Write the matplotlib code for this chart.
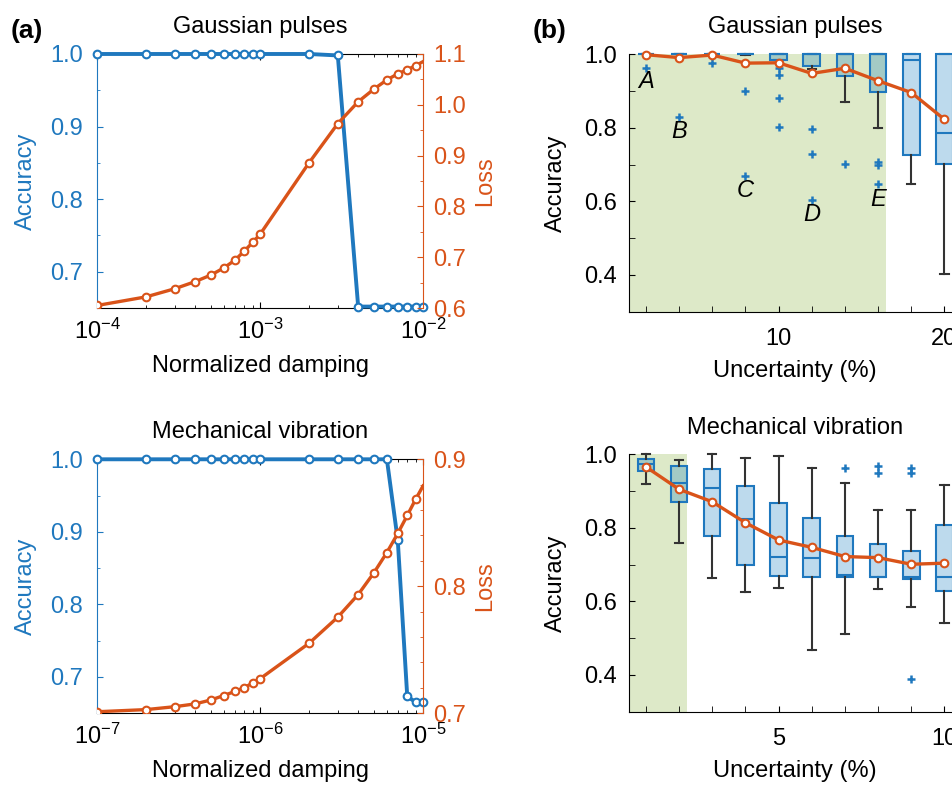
import matplotlib
matplotlib.use('Agg')
import matplotlib.pyplot as plt

plt.rcParams['font.family'] = 'Liberation Sans'
plt.rcParams['mathtext.fontset'] = 'custom'
plt.rcParams['mathtext.rm'] = 'Liberation Sans'
plt.rcParams['mathtext.it'] = 'Liberation Sans:italic'
plt.rcParams['font.size'] = 17
plt.rcParams['axes.titlesize'] = 17
plt.rcParams['xtick.direction'] = 'in'
plt.rcParams['ytick.direction'] = 'in'

BLUE = '#1f78be'
ORANGE = '#d95319'
GREEN = '#dde9c8'
BOX_FILL = (0.0, 0.447, 0.741, 0.26)
WHISK = '#333333'

# ---- (a) damping sweeps ----
damp_gauss = [1e-4, 2e-4, 3e-4, 4e-4, 5e-4, 6e-4, 7e-4, 8e-4, 9e-4, 1e-3,
              2e-3, 3e-3, 4e-3, 5e-3, 6e-3, 7e-3, 8e-3, 9e-3, 1e-2]
acc_gauss = [1.0, 1.0, 1.0, 1.0, 1.0, 1.0, 1.0, 1.0, 1.0, 1.0,
             1.0, 0.998, 0.652, 0.652, 0.652, 0.652, 0.652, 0.652, 0.652]
loss_gauss = [0.605, 0.622, 0.638, 0.652, 0.665, 0.679, 0.694, 0.712, 0.729, 0.745,
              0.886, 0.963, 1.006, 1.031, 1.049, 1.061, 1.069, 1.077, 1.085]

damp_mech = [1e-7, 2e-7, 3e-7, 4e-7, 5e-7, 6e-7, 7e-7, 8e-7, 9e-7, 1e-6,
             2e-6, 3e-6, 4e-6, 5e-6, 6e-6, 7e-6, 8e-6, 9e-6, 1e-5]
acc_mech = [1.0, 1.0, 1.0, 1.0, 1.0, 1.0, 1.0, 1.0, 1.0, 1.0,
            1.0, 1.0, 1.0, 1.0, 1.0, 0.888, 0.673, 0.665, 0.665]
loss_mech = [0.701, 0.7027, 0.705, 0.7072, 0.7103, 0.7138, 0.717, 0.720, 0.7236, 0.727,
             0.755, 0.7756, 0.7934, 0.8106, 0.8265, 0.8416, 0.8557, 0.8684, 0.879]

# ---- (b) uncertainty sweeps ----
unc_gauss = [2, 4, 6, 8, 10, 12, 14, 16, 18, 20]
gauss_q1 = [1.0, 1.0, 1.0, 1.0, 0.985, 0.968, 0.942, 0.897, 0.726, 0.701]
gauss_med = [1.0, 1.0, 1.0, 1.0, 1.0, 1.0, 1.0, 1.0, 0.985, 0.787]
gauss_q3 = [1.0, 1.0, 1.0, 1.0, 1.0, 1.0, 1.0, 1.0, 1.0, 1.0]
gauss_wlo = [1.0, 1.0, 1.0, 0.998, 0.985, 0.96, 0.871, 0.799, 0.647, 0.402]
gauss_whi = [1.0, 1.0, 1.0, 1.0, 1.0, 1.0, 1.0, 1.0, 1.0, 1.0]
gauss_fliers = [[0.964], [0.830], [0.975], [0.901, 0.670], [0.962, 0.944, 0.880, 0.803],
                [0.796, 0.730, 0.604], [0.701], [0.708, 0.699, 0.647], [], []]
gauss_mean = [0.999, 0.991, 0.998, 0.976, 0.977, 0.948, 0.962, 0.928, 0.896, 0.823]
gauss_tags = ['A', 'B', 'C', 'D', 'E']
gauss_tag_x = [2, 4, 8, 12, 16]
gauss_tag_y = [0.926, 0.790, 0.629, 0.563, 0.604]

unc_mech = [1, 2, 3, 4, 5, 6, 7, 8, 9, 10]
mech_q1 = [0.955, 0.869, 0.779, 0.698, 0.669, 0.667, 0.667, 0.665, 0.661, 0.629]
mech_med = [0.973, 0.923, 0.909, 0.823, 0.721, 0.718, 0.672, 0.667, 0.666, 0.667]
mech_q3 = [0.987, 0.968, 0.960, 0.914, 0.867, 0.826, 0.777, 0.755, 0.738, 0.808]
mech_wlo = [0.918, 0.760, 0.663, 0.626, 0.637, 0.468, 0.511, 0.633, 0.586, 0.540]
mech_whi = [1.0, 0.985, 1.0, 0.989, 0.996, 0.962, 0.923, 0.849, 0.849, 0.917]
mech_fliers = [[], [], [], [], [], [], [0.962], [0.969, 0.948], [0.964, 0.948, 0.389], []]
mech_mean = [0.966, 0.905, 0.871, 0.814, 0.767, 0.747, 0.722, 0.719, 0.701, 0.704]


def damping_panel(rect, x, acc, loss, loss_lim, loss_major, loss_minor, title):
    ax = fig.add_axes(rect)
    ax.plot(x, acc, '-o', color=BLUE, lw=2.8, ms=5.5, mfc='white', mew=1.5,
            clip_on=False, zorder=5)
    ax.set_xscale('log')
    ax.set_xlim(x[0], x[-1])
    ax.set_ylim(0.65, 1.0)
    ax.set_yticks([0.7, 0.8, 0.9, 1.0])
    ax.set_yticks([0.75, 0.85, 0.95], minor=True)
    ax.yaxis.set_major_formatter('{x:.1f}')
    ax.tick_params(axis='y', which='both', colors=BLUE, length=4, pad=10)
    ax.tick_params(axis='y', which='minor', length=2.5)
    ax.tick_params(axis='x', which='both', top=True, length=4)
    ax.tick_params(axis='x', which='minor', length=2.5)
    ax.tick_params(axis='x', pad=8)
    ax.spines['left'].set_color(BLUE)
    ax.spines['right'].set_visible(False)
    ax.set_ylabel('Accuracy', color=BLUE, labelpad=9.5)
    ax.set_xlabel('Normalized damping', labelpad=8)
    ax.set_title(title, pad=15)

    ax2 = ax.twinx()
    ax2.plot(x, loss, '-o', color=ORANGE, lw=2.4, ms=5.5, mfc='white', mew=1.5,
             markevery=list(range(len(x) - 1)), zorder=5)
    ax2.set_ylim(*loss_lim)
    ax2.set_yticks(loss_major)
    ax2.set_yticks(loss_minor, minor=True)
    ax2.yaxis.set_major_formatter('{x:.1f}')
    ax2.tick_params(axis='y', which='both', colors=ORANGE, length=4, pad=7)
    ax2.tick_params(axis='y', which='minor', length=2.5)
    for s in ['top', 'bottom', 'left']:
        ax2.spines[s].set_visible(False)
    ax2.spines['right'].set_color(ORANGE)
    ax2.set_ylabel('Loss', color=ORANGE, labelpad=6)
    return ax


def uncertainty_panel(rect, x, q1, med, q3, wlo, whi, fliers, mean, shade_to,
                      xlim, xmajor, width, title):
    ax = fig.add_axes(rect)
    ax.axvspan(xlim[0], shade_to, color=GREEN, lw=0, zorder=0)
    stats = [dict(q1=a, med=m, q3=b, whislo=lo, whishi=hi, fliers=f)
             for a, m, b, lo, hi, f in zip(q1, med, q3, wlo, whi, fliers)]
    art = ax.bxp(stats, positions=x, widths=width, capwidths=width * 0.5,
                 patch_artist=True, manage_ticks=False,
                 boxprops=dict(facecolor=BOX_FILL, edgecolor=BLUE, lw=1.5),
                 medianprops=dict(color=BLUE, lw=1.5),
                 whiskerprops=dict(color=WHISK, lw=1.5),
                 capprops=dict(color=WHISK, lw=1.5),
                 flierprops=dict(marker='+', markeredgecolor=BLUE, ms=6, mew=1.8))
    for group in art.values():
        for a in group:
            a.set_clip_on(False)
    for c in art['caps']:
        c.set_zorder(1.9)
    ax.plot(x, mean, '-o', color=ORANGE, lw=2.4, ms=5.5, mfc='white', mew=1.5,
            clip_on=False, zorder=5)
    ax.set_xlim(*xlim)
    ax.set_ylim(0.3, 1.0)
    ax.set_yticks([0.4, 0.6, 0.8, 1.0])
    ax.set_yticks([0.5, 0.7, 0.9], minor=True)
    ax.yaxis.set_major_formatter('{x:.1f}')
    ax.set_xticks(xmajor)
    ax.set_xticks(x, minor=True)
    ax.tick_params(which='both', length=4)
    ax.tick_params(axis='x', pad=12)
    ax.tick_params(axis='y', pad=9)
    for s in ['top', 'right']:
        ax.spines[s].set_visible(False)
    ax.set_ylabel('Accuracy', labelpad=12.5)
    ax.set_xlabel('Uncertainty (%)', labelpad=7)
    ax.set_title(title, pad=15)
    return ax


fig = plt.figure(figsize=(9.53, 7.87), dpi=100)

damping_panel([0.1018, 0.6086, 0.3421, 0.3228], damp_gauss, acc_gauss, loss_gauss,
              (0.6, 1.1), [0.6, 0.7, 0.8, 0.9, 1.0, 1.1],
              [0.65, 0.75, 0.85, 0.95, 1.05], 'Gaussian pulses')
damping_panel([0.1018, 0.0940, 0.3421, 0.3224], damp_mech, acc_mech, loss_mech,
              (0.7, 0.9), [0.7, 0.8, 0.9],
              [0.72, 0.74, 0.76, 0.78, 0.82, 0.84, 0.86, 0.88], 'Mechanical vibration')

axg = uncertainty_panel([0.6603, 0.6040, 0.3481, 0.3270], unc_gauss, gauss_q1, gauss_med,
                        gauss_q3, gauss_wlo, gauss_whi, gauss_fliers, gauss_mean,
                        16.5, (1, 21), [10, 20], 1.0, 'Gaussian pulses')
for t, tx, ty in zip(gauss_tags, gauss_tag_x, gauss_tag_y):
    axg.text(tx, ty, t, style='italic', ha='center', va='center', zorder=6)

uncertainty_panel([0.6603, 0.0957, 0.3481, 0.3270], unc_mech, mech_q1, mech_med,
                  mech_q3, mech_wlo, mech_whi, mech_fliers, mech_mean,
                  2.25, (0.5, 10.5), [5, 10], 0.5, 'Mechanical vibration')

fig.text(0.011, 0.952, '(a)', fontweight='bold', fontsize=19, va='baseline')
fig.text(0.559, 0.952, '(b)', fontweight='bold', fontsize=19, va='baseline')

fig.savefig('out.png', dpi=100)
